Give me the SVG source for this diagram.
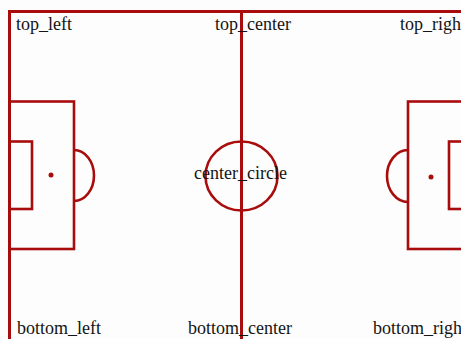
<svg xmlns="http://www.w3.org/2000/svg" width="461" height="339" viewBox="0 0 461 339">
<style>
.ln{fill:none;stroke:#a80c0c;stroke-width:3}
.bx{fill:none;stroke:#a80c0c;stroke-width:2.6}
.spot{fill:#a80c0c}
text{font-family:"Liberation Serif","Times New Roman",serif;font-size:18px;fill:#141414}
</style>
<rect width="461" height="339" fill="#fdfdfd"/>
<g id="pitch">
<path class="ln" d="M9.5,339 V11.5 H470"/>
<line class="ln" x1="241.5" y1="11" x2="241.5" y2="339"/>
</g>
<g id="left_penalty">
<rect class="bx" x="9.5" y="101.5" width="64.5" height="147.5"/>
<rect class="bx" x="9.5" y="141.5" width="22.5" height="67.5"/>
<circle class="spot" cx="51" cy="175" r="2.5"/>
<path class="bx" d="M74,150 A20 25.5 0 0 1 74,201"/>
</g>
<g id="center_circle_g">
<ellipse class="bx" cx="241.5" cy="176" rx="36" ry="34.5"/>
</g>
<g id="right_penalty">
<rect class="bx" x="408" y="101.5" width="70" height="147.5"/>
<rect class="bx" x="449" y="141.5" width="30" height="67.5"/>
<circle class="spot" cx="431" cy="177" r="2.5"/>
<path class="bx" d="M408,150 A21 26 0 0 0 408,202"/>
</g>
<g id="labels">
<text x="16" y="30">top_left</text>
<text x="215" y="30">top_center</text>
<text x="400" y="30">top_right</text>
<text x="194" y="179">center_circle</text>
<text x="17" y="334">bottom_left</text>
<text x="188" y="334">bottom_center</text>
<text x="373" y="334">bottom_right</text>
</g>
</svg>
